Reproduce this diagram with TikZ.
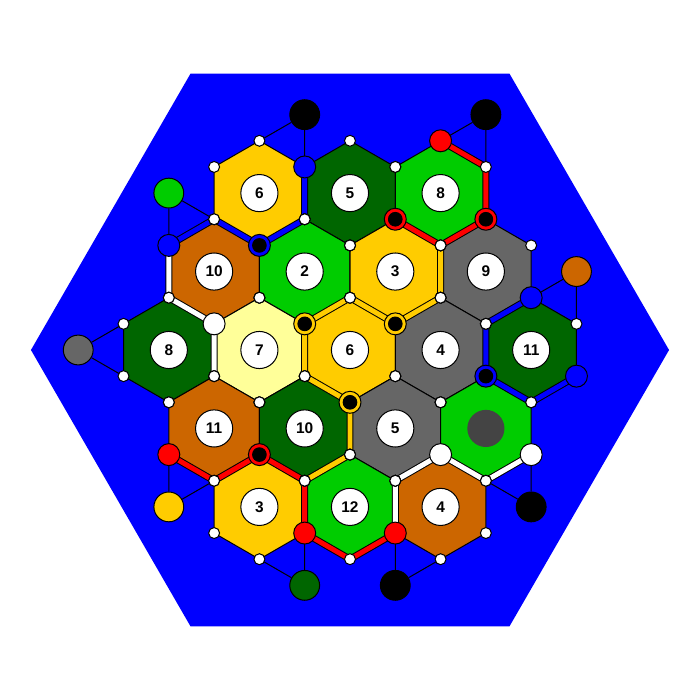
\documentclass[tikz,border=0pt]{standalone}
\usepackage{fontspec}
\setmainfont{Liberation Sans}
\usetikzlibrary{calc}
\definecolor{sea}{HTML}{0000FF}
\definecolor{wheat}{HTML}{FFCC00}
\definecolor{forest}{HTML}{006600}
\definecolor{pasture}{HTML}{00CC00}
\definecolor{brick}{HTML}{CC6600}
\definecolor{ore}{HTML}{666666}
\definecolor{sand}{HTML}{FFFF99}
\definecolor{robber}{HTML}{444444}

% corner of the hex grid: column k, half-rows j
\newcommand{\vx}[3]{\coordinate (#1) at ({#2*0.8660254},{#3/2});}

\begin{document}
\begin{tikzpicture}[
        hex/.style={draw=black, line width=0.55pt},
        token/.style={circle, draw=black, fill=white, line width=0.55pt,
            minimum size=0.71cm, inner sep=0pt,
            font=\bfseries\fontsize{8.4}{10}\selectfont},
        road/.style={draw=black, line width=0.55pt, double=#1,
            double distance=2.7pt, line join=round},
        corner/.style={draw=black, fill=white, line width=0.55pt},
        settle/.style={circle, draw=black, fill=#1, line width=0.55pt,
            minimum size=0.42cm, inner sep=0pt},
        core/.style={circle, draw=black, fill=black, line width=0.55pt,
            minimum size=0.26cm, inner sep=0pt},
        port/.style={circle, draw=black, fill=#1, line width=0.55pt,
            minimum size=0.57cm, inner sep=0pt},
        link/.style={draw=black, line width=0.55pt}
    ]
        \useasboundingbox (-6.692,-6.692) rectangle (6.692,6.692);

        % sea
        \fill[sea] (0:6.1) -- (60:6.1) -- (120:6.1) -- (180:6.1)
            -- (240:6.1) -- (300:6.1) -- cycle;

        % land tiles
        \foreach \k/\j/\res/\num [count=\i] in {
            -2/6/wheat/6, 0/6/forest/5, 2/6/pasture/8,
            -3/3/brick/10, -1/3/pasture/2, 1/3/wheat/3, 3/3/ore/9,
            -4/0/forest/8, -2/0/sand/7, 0/0/wheat/6, 2/0/ore/4, 4/0/forest/11,
            -3/-3/brick/11, -1/-3/forest/10, 1/-3/ore/5,
            -2/-6/wheat/3, 0/-6/pasture/12, 2/-6/brick/4}{
            \draw[hex, fill=\res] ({\k*0.8660254},{\j/2}) +(90:1) -- +(30:1)
                -- +(-30:1) -- +(-90:1) -- +(-150:1) -- +(150:1) -- cycle;
        }
        \draw[hex, fill=pasture] ({3*0.8660254},-1.5) +(90:1) -- +(30:1)
            -- +(-30:1) -- +(-90:1) -- +(-150:1) -- +(150:1) -- cycle;

        % corners in use
        \vx{bn1}{-1}{7} \vx{bn2}{-1}{5} \vx{bn3}{-2}{4} \vx{bn4}{-3}{5} \vx{bn5}{-4}{4}
        \vx{ww1}{-4}{2} \vx{ww2}{-3}{1} \vx{ww3}{-3}{-1}
        \vx{rn1}{2}{8} \vx{rn2}{3}{7} \vx{rn3}{3}{5} \vx{rn4}{2}{4} \vx{rn5}{1}{5}
        \vx{or1}{2}{2} \vx{or2}{1}{1} \vx{or3}{0}{2} \vx{or4}{-1}{1}
        \vx{or5}{-1}{-1} \vx{or6}{0}{-2} \vx{or7}{0}{-4} \vx{or8}{-1}{-5}
        \vx{rs1}{-4}{-4} \vx{rs2}{-3}{-5} \vx{rs3}{-2}{-4}
        \vx{rs4}{-1}{-7} \vx{rs5}{0}{-8} \vx{rs6}{1}{-7}
        \vx{ws1}{1}{-5} \vx{ws2}{2}{-4} \vx{ws3}{3}{-5} \vx{ws4}{4}{-4}
        \vx{be1}{4}{2} \vx{be2}{3}{1} \vx{be3}{3}{-1} \vx{be4}{4}{-2} \vx{be5}{5}{-1}
        \vx{pa}{-2}{8} \vx{pb}{5}{1} \vx{pc}{-5}{1} \vx{pd}{-5}{-1}
        \vx{pe}{-2}{-8} \vx{pf}{2}{-8}

        % harbours
        \node[port=black] (p1) at ({-1*0.8660254},4.5) {};
        \node[port=black] (p2) at ({3*0.8660254},4.5) {};
        \node[port=pasture] (p3) at ({-4*0.8660254},3) {};
        \node[port=brick] (p4) at ({5*0.8660254},1.5) {};
        \node[port=ore] (p5) at ({-6*0.8660254},0) {};
        \node[port=black] (p6) at ({4*0.8660254},-3) {};
        \node[port=wheat] (p7) at ({-4*0.8660254},-3) {};
        \node[port=forest] (p8) at ({-1*0.8660254},-4.5) {};
        \node[port=black] (p9) at ({1*0.8660254},-4.5) {};
        \foreach \p/\a/\b in {p1/pa/bn1, p2/rn1/rn2, p3/bn5/bn4, p4/be1/pb,
            p5/pc/pd, p6/ws4/ws3, p7/rs1/rs2, p8/rs4/pe, p9/rs6/pf}{
            \draw[link] (\a) -- (\p) -- (\b);
        }

        % roads
        \draw[road=sea] (bn1) -- (bn2) -- (bn3) -- (bn4) -- (bn5);
        \draw[road=white] (bn5) -- (ww1) -- (ww2) -- (ww3);
        \draw[road=red] (rn1) -- (rn2) -- (rn3) -- (rn4) -- (rn5);
        \draw[road=wheat] (rn4) -- (or1) -- (or2) -- (or3) -- (or4)
            -- (or5) -- (or6) -- (or7) -- (or8);
        \draw[road=red] (rs1) -- (rs2) -- (rs3) -- (or8) -- (rs4) -- (rs5) -- (rs6);
        \draw[road=white] (rs6) -- (ws1) -- (ws2) -- (ws3) -- (ws4);
        \draw[road=sea] (be1) -- (be2) -- (be3) -- (be4) -- (be5);

        % empty corners
        \foreach \k/\j in {-2/6, 0/6, 2/6, -3/3, -1/3, 1/3, 3/3,
            -4/0, -2/0, 0/0, 2/0, 4/0, -3/-3, -1/-3, 1/-3, 3/-3,
            -2/-6, 0/-6, 2/-6}{
            \foreach \a in {30,90,...,330}{
                \filldraw[corner] ($({\k*0.8660254},{\j/2})+(\a:1)$) circle (0.105);
            }
        }

        % number chips
        \foreach \k/\j/\num [count=\i] in {
            -2/6/6, 0/6/5, 2/6/8,
            -3/3/10, -1/3/2, 1/3/3, 3/3/9,
            -4/0/8, -2/0/7, 0/0/6, 2/0/4, 4/0/11,
            -3/-3/11, -1/-3/10, 1/-3/5,
            -2/-6/3, 0/-6/12, 2/-6/4}{
            \node[token] (t\i) at ({\k*0.8660254},{\j/2}) {\num};
        }
        \node[circle, fill=robber, minimum size=0.71cm, inner sep=0pt]
            (thief) at ({3*0.8660254},-1.5) {};

        % settlements and cities
        \foreach \v/\col in {bn1/sea, bn5/sea, rn1/red, ww2/white, be1/sea,
            be5/sea, ws2/white, ws4/white, rs1/red, rs4/red, rs6/red}{
            \node[settle=\col] (s\v) at (\v) {};
        }
        \foreach \v/\col in {bn3/sea, rn3/red, rn5/red, or2/wheat, or4/wheat,
            or6/wheat, be3/sea, rs3/red}{
            \node[settle=\col] (c\v) at (\v) {};
            \node[core] (k\v) at (\v) {};
        }
    \end{tikzpicture}
\end{document}
